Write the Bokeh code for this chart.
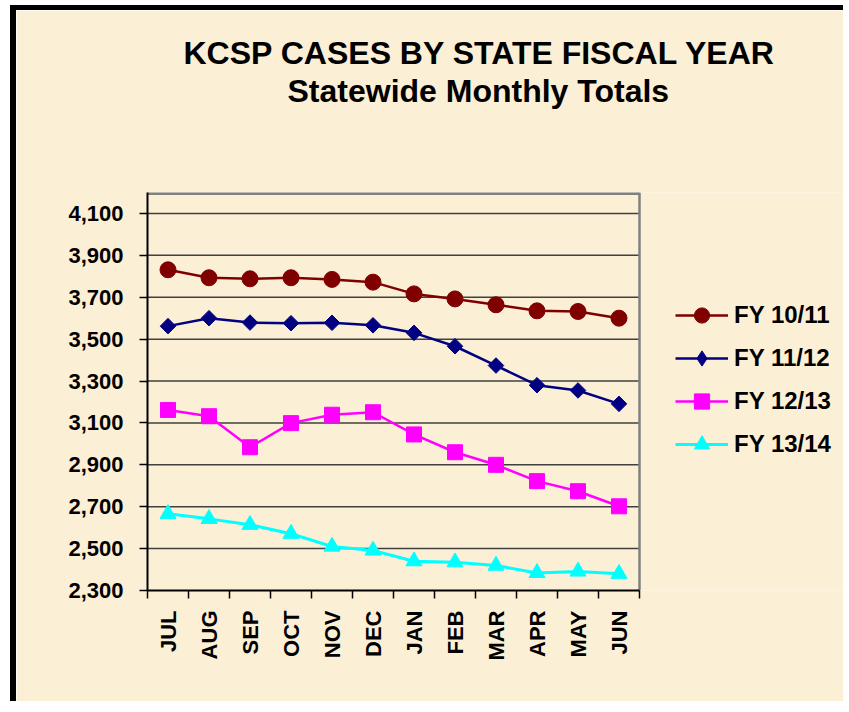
import math
from bokeh.plotting import figure
from bokeh.models import Range1d, FixedTicker, Legend, LegendItem, Title, NumeralTickFormatter
from bokeh.embed import file_html
from bokeh.resources import INLINE

months = ["JUL", "AUG", "SEP", "OCT", "NOV", "DEC", "JAN", "FEB", "MAR", "APR", "MAY", "JUN"]
fy1011 = [3831, 3793, 3788, 3793, 3785, 3772, 3716, 3692, 3664, 3635, 3632, 3600]
fy1112 = [3562, 3600, 3579, 3576, 3578, 3566, 3530, 3466, 3374, 3280, 3255, 3191]
fy1213 = [3162, 3132, 2984, 3099, 3139, 3151, 3045, 2960, 2900, 2822, 2774, 2702]
fy1314 = [2666, 2642, 2614, 2571, 2510, 2491, 2440, 2435, 2419, 2384, 2391, 2380]
series_names = ["FY 10/11", "FY 11/12", "FY 12/13", "FY 13/14"]
y_ticks = list(range(2300, 4101, 200))
y_min, y_max = 2300, 4200
title_line1 = "KCSP CASES BY STATE FISCAL YEAR"
title_line2 = "Statewide Monthly Totals"

BG = "#FBEFD6"
n = len(months)
x = [i + 0.5 for i in range(n)]

W, H = 833, 696
LEFT, TOP, BOTTOM = 131, 182, 116
PLOT_W = 492  # pixel width of the category area
x_end = n * (W - LEFT) / PLOT_W  # frame extends under the legend area

p = figure(width=W, height=H, x_range=Range1d(0, x_end), y_range=Range1d(y_min, y_max),
           output_backend="svg", toolbar_location=None, title=None,
           min_border_left=LEFT, min_border_right=0, min_border_top=TOP, min_border_bottom=BOTTOM)
p.styles = {"margin-left": "10px", "margin-top": "5px",
            "border-left": "6px solid black", "border-top": "5px solid black"}
p.background_fill_color = BG
p.border_fill_color = BG
p.outline_line_color = None
p.xgrid.visible = False
p.ygrid.visible = False

# plot-area grid lines and border limited to the category area
grid_y = [v for v in y_ticks if v > y_min]
p.segment(x0=[0] * len(grid_y), y0=grid_y, x1=[n] * len(grid_y), y1=grid_y,
          line_color="#404040", line_width=1.5)
p.segment(x0=[0], y0=[y_max], x1=[n], y1=[y_max], line_color="#808080", line_width=5)
p.segment(x0=[n], y0=[y_min], x1=[n], y1=[y_max], line_color="#808080", line_width=2.5)

ya = p.yaxis[0]
ya.ticker = FixedTicker(ticks=y_ticks)
ya.formatter = NumeralTickFormatter(format="0,0")
ya.major_tick_out = 8
ya.major_tick_in = 0
ya.minor_tick_out = 0
ya.minor_tick_in = 0
ya.axis_line_color = "black"
ya.axis_line_width = 2
ya.major_tick_line_color = "black"
ya.major_tick_line_width = 1.5
ya.major_label_text_font = "Liberation Sans"
ya.major_label_text_font_style = "bold"
ya.major_label_text_font_size = "22px"
ya.major_label_text_color = "black"
ya.major_label_standoff = 16

xa = p.xaxis[0]
xa.bounds = (0, n)
xa.ticker = FixedTicker(ticks=x, minor_ticks=list(range(n + 1)))
xa.major_label_overrides = {xv: m for xv, m in zip(x, months)}
xa.major_tick_out = 0
xa.major_tick_in = 0
xa.minor_tick_out = 8
xa.minor_tick_in = 0
xa.minor_tick_line_color = "black"
xa.minor_tick_line_width = 1.5
xa.axis_line_color = "black"
xa.axis_line_width = 2
xa.major_label_orientation = math.pi / 2
xa.major_label_text_font = "Liberation Sans"
xa.major_label_text_font_style = "bold"
xa.major_label_text_font_size = "22px"
xa.major_label_text_color = "black"
xa.major_label_standoff = 12

colors = ["#800000", "#000080", "#FF00FF", "#00FFFF"]
markers = ["circle", "square", "square", "triangle"]
legend_markers = ["circle", "diamond", "square", "triangle"]
angles = [0, math.pi / 4, 0, 0]
sizes = [16, 11, 15, 16]
widths = [2.5, 2.5, 2.5, 3]
data = [fy1011, fy1112, fy1213, fy1314]

items = []
for name, ys, c, mk, lmk, ang, sz, lw in zip(series_names, data, colors, markers, legend_markers,
                                             angles, sizes, widths):
    lr = p.line(x, ys, line_color=c, line_width=lw)
    sr = p.scatter(x, ys, marker=mk, size=sz, angle=ang, fill_color=c, line_color=c)
    if lmk != mk:
        # zero-size twin so the legend swatch shows the diamond shape
        sr = p.scatter(x, ys, marker=lmk, size=0, fill_color=c, line_color=c)
    items.append(LegendItem(label=name, renderers=[lr, sr]))

legend = Legend(items=items, location=(518, 117), margin=0, padding=10,
                glyph_width=53, glyph_height=38, label_height=38, spacing=5,
                label_standoff=6, label_text_font="Liberation Sans",
                label_text_font_style="bold", label_text_font_size="24px",
                label_text_color="black", background_fill_alpha=0, border_line_alpha=0)
p.add_layout(legend, "center")

spacer = Title(text=" ", text_font_size="2px", standoff=80)
t2 = Title(text=title_line2, align="left", offset=140, standoff=0,
           text_font="Liberation Sans", text_font_style="bold", text_font_size="32px",
           text_color="black")
t1 = Title(text=title_line1, align="left", offset=36, standoff=0,
           text_font="Liberation Sans", text_font_style="bold", text_font_size="32px",
           text_color="black")
p.add_layout(spacer, "above")
p.add_layout(t2, "above")
p.add_layout(t1, "above")

open("out.html", "w").write(file_html(p, INLINE))
